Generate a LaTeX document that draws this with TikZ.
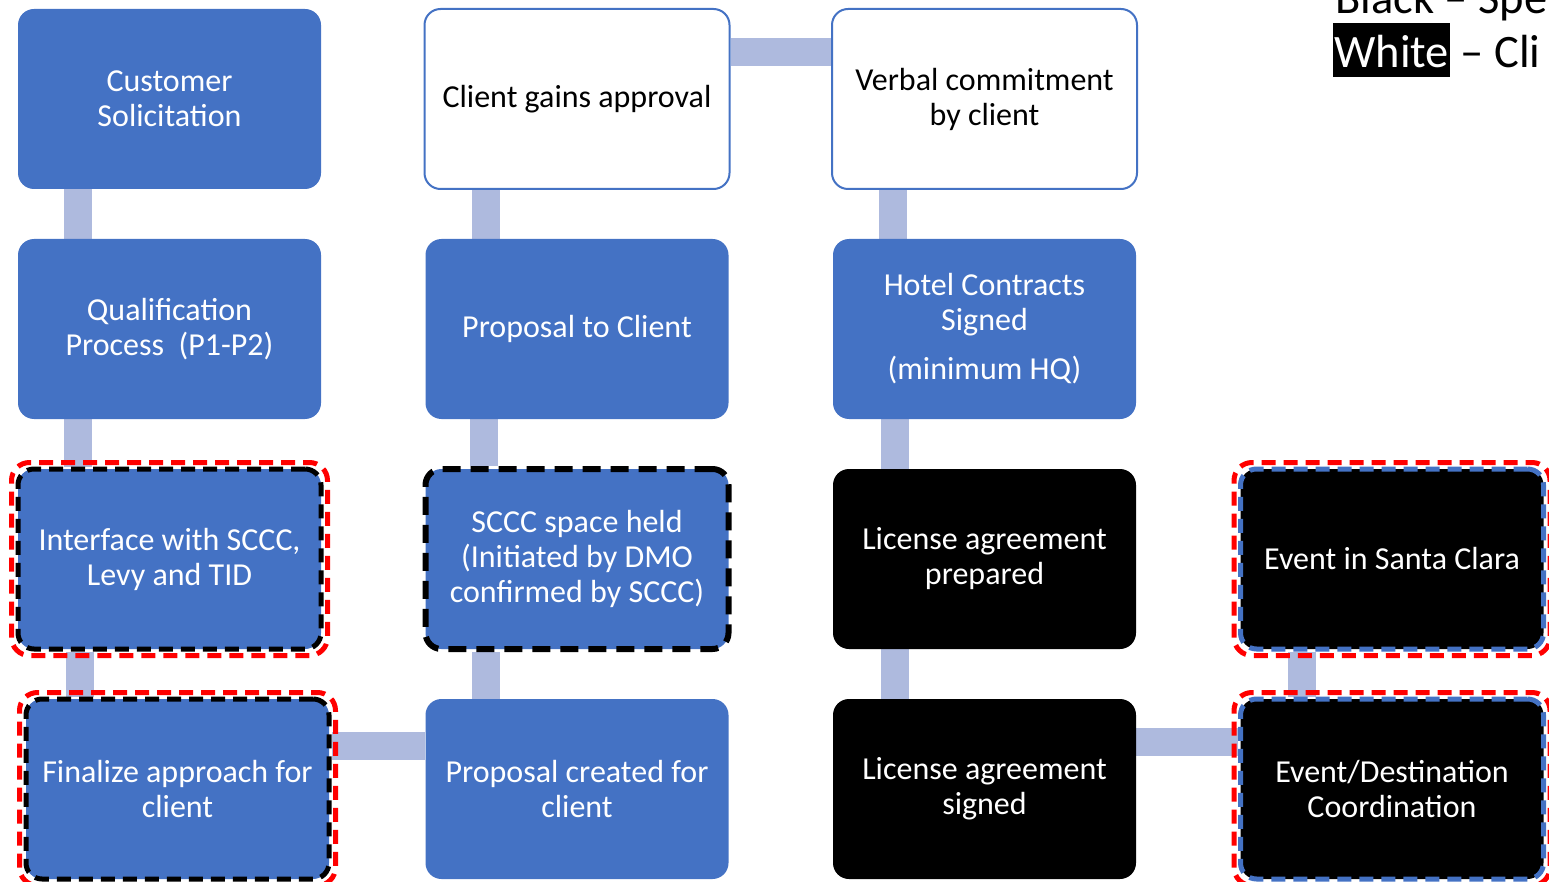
\documentclass[tikz,border=0pt]{standalone}
\usepackage{fontspec}
\setmainfont{Carlito}
\usetikzlibrary{positioning, backgrounds}
\definecolor{sbblue}{RGB}{68,114,196}
\definecolor{linkblue}{RGB}{174,186,222}

\tikzset{
  box/.style={rounded corners=16pt, minimum width=303pt, minimum height=180pt,
    align=center, inner sep=0pt, font=\fontsize{32}{35}\selectfont},
  bluebox/.style={box, fill=sbblue, text=white},
  whitebox/.style={box, draw=sbblue, line width=2pt, fill=white, text=black,
    minimum width=305pt},
  blackbox/.style={box, fill=black, text=white},
  link/.style={draw=linkblue, line width=28pt},
  blackdash/.style={draw=black, line width=5pt, dash pattern=on 14pt off 8pt},
  bluedash/.style={draw=sbblue, line width=5pt, dash pattern=on 14pt off 8pt},
  reddash/.style={draw=red, line width=5pt, dash pattern=on 14pt off 8pt,
    dash phase=11pt, rounded corners=18pt},
  legend/.style={anchor=base west, inner sep=0pt, font=\fontsize{46.5}{54}\selectfont}
}

\begin{document}
\begin{tikzpicture}[x=1pt, y=-1pt, node distance=230pt and 407.5pt, on grid]
   \useasboundingbox (0,0) rectangle (1549,882);

   % first column
   \node[bluebox] (cust) at (169.5,99) {Customer\\Solicitation};
   \node[bluebox] (qual) [below=of cust] {Qualification\\Process\ \ (P1-P2)};
   \node[bluebox, blackdash] (ifc) [below=of qual] {Interface with SCCC,\\Levy and TID};
   \node[bluebox, blackdash] (fin) [below=of ifc, xshift=8pt] {Finalize approach for\\client};

   % second column
   \node[whitebox] (cga) [right=of cust] {Client gains approval};
   \node[bluebox] (ptc) [below=of cga] {Proposal to Client};
   \node[bluebox, blackdash, line width=6pt, dash pattern=on 18pt off 10pt] (sccc) [below=of ptc]
        {SCCC space held\\(Initiated by DMO\\confirmed by SCCC)};
   \node[bluebox] (pcr) [below=of sccc] {Proposal created for\\client};

   % third column
   \node[whitebox] (vbc) [right=of cga] {Verbal commitment\\by client};
   \node[bluebox] (hotel) [below=of vbc] {Hotel Contracts\\Signed\\[14pt](minimum HQ)};
   \node[blackbox] (lap) [below=of hotel] {License agreement\\prepared};
   \node[blackbox] (las) [below=of lap] {License agreement\\signed};

   % fourth column
   \node[blackbox, bluedash] (edc) [right=of las] {Event/Destination\\Coordination};
   \node[blackbox, bluedash] (eisc) [above=of edc] {Event in Santa Clara};

   % red outlines
   \foreach \n in {ifc, fin, eisc, edc}
      \draw[reddash] ([shift={(-4pt,4pt)}]\n.north west) rectangle ([shift={(4pt,-4pt)}]\n.south east);

   % legend
   \node[legend] (blk) at (1335,14) {Black – Spe};
   \node[legend, fill=black, text=white, inner xsep=1pt, text height=45pt, text depth=9pt] (wht) at (1333,68) {White};
   \node[legend] (cli) at (wht.base east) {\ – Cli};

   \begin{scope}[on background layer]
   \path[link] ([xshift=60pt]cust.south west) -- ([xshift=60pt]cust.south west |- qual.north);
   \path[link] ([xshift=60pt]qual.south west) -- ([xshift=60pt]qual.south west |- ifc.north);
   \path[link] ([xshift=64pt]ifc.south west) -- ([xshift=64pt]ifc.south west |- fin.north);
   \path[link] ([yshift=43pt]fin.east) -- ([yshift=43pt]fin.east -| pcr.west);
   \path[link] ([xshift=61pt]pcr.north west) -- ([xshift=61pt]pcr.north west |- sccc.south);
   \path[link] ([xshift=61pt]sccc.north west) -- ([xshift=61pt]sccc.north west |- ptc.south);
   \path[link] ([xshift=61pt]ptc.north west) -- ([xshift=61pt]ptc.north west |- cga.south);
   \path[link] ([yshift=47pt]cga.east) -- ([yshift=47pt]cga.east -| vbc.west);
   \path[link] ([xshift=62pt]vbc.south west) -- ([xshift=62pt]vbc.south west |- hotel.north);
   \path[link] ([xshift=62pt]hotel.south west) -- ([xshift=62pt]hotel.south west |- lap.north);
   \path[link] ([xshift=62pt]lap.south west) -- ([xshift=62pt]lap.south west |- las.north);
   \path[link] ([yshift=47pt]las.east) -- ([yshift=47pt]las.east -| edc.west);
   \path[link] ([xshift=64pt]edc.north west) -- ([xshift=64pt]edc.north west |- eisc.south);
   \end{scope}
\end{tikzpicture}
\end{document}
